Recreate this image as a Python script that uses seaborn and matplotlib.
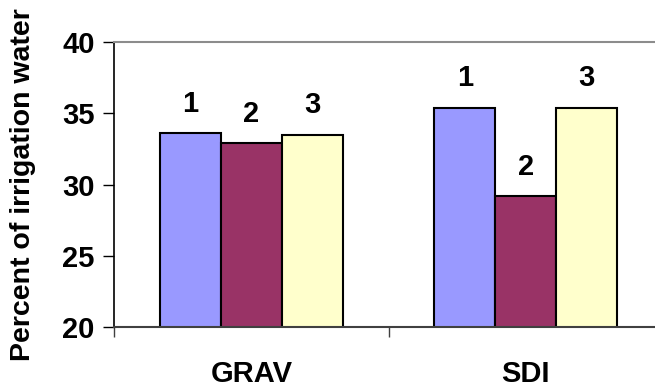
import pandas as pd
import matplotlib.pyplot as plt
import seaborn as sns
from matplotlib.ticker import MultipleLocator, FixedLocator

# Valeurs
systems = ["GRAV", "SDI"]
treatments = ["1", "2", "3"]
grav_values = [33.6, 32.9, 33.5]
sdi_values = [35.4, 29.2, 35.4]
colors = ["#9999FF", "#993366", "#FFFFCC"]

rows = []
for sys_name, vals in zip(systems, [grav_values, sdi_values]):
    for t, v in zip(treatments, vals):
        rows.append({"System": sys_name, "Treatment": t, "Percent": v})
df = pd.DataFrame(rows)

sns.set_style("white")
plt.rcParams['font.family'] = ['Liberation Sans', 'DejaVu Sans']
plt.rcParams['font.weight'] = 'bold'
plt.rcParams['text.color'] = 'black'
plt.rcParams['axes.labelcolor'] = 'black'
plt.rcParams['xtick.color'] = 'black'
plt.rcParams['ytick.color'] = 'black'

fig = plt.figure(figsize=(6.55, 3.92), dpi=100)
ax = fig.add_axes([114 / 655, 1 - 327 / 392, (663 - 114) / 655, 285 / 392])

sns.barplot(data=df, x="System", y="Percent", hue="Treatment", order=systems,
            hue_order=treatments, palette=colors, width=0.667, saturation=1,
            edgecolor="black", linewidth=1.5, legend=False, ax=ax)

# étiquettes au-dessus des barres
for cont, t in zip(ax.containers, treatments):
    ax.bar_label(cont, labels=[t] * len(cont), padding=11, fontsize=21,
                 fontweight='bold', color='black')

ax.set_xlim(-0.5, 1.5)
ax.set_ylim(20, 40)
ax.yaxis.set_major_locator(MultipleLocator(5))

ax.set_xlabel("")
ax.set_ylabel("Percent of irrigation water", fontsize=20.5, fontweight='bold')
ax.yaxis.set_label_coords(-0.142, 0.5)

ax.tick_params(axis='y', labelsize=21, length=8, width=1, colors='black', direction='out', left=True, pad=6)
ax.tick_params(axis='x', which='major', labelsize=21, length=0, pad=24, labelcolor='black')
ax.xaxis.set_minor_locator(FixedLocator([-0.5, 0.5, 1.5]))
ax.tick_params(axis='x', which='minor', length=7, width=1, color='#404040', direction='out', bottom=True)
for lbl in ax.get_xticklabels() + ax.get_yticklabels():
    lbl.set_fontweight('bold')

ax.spines['left'].set_color('black')
ax.spines['left'].set_linewidth(1.2)
ax.spines['bottom'].set_color('#404040')
ax.spines['bottom'].set_linewidth(1.5)
ax.spines['top'].set_color('#8c8c8c')
ax.spines['top'].set_linewidth(1.5)
ax.spines['right'].set_visible(False)

fig.savefig("out.png", dpi=100)
